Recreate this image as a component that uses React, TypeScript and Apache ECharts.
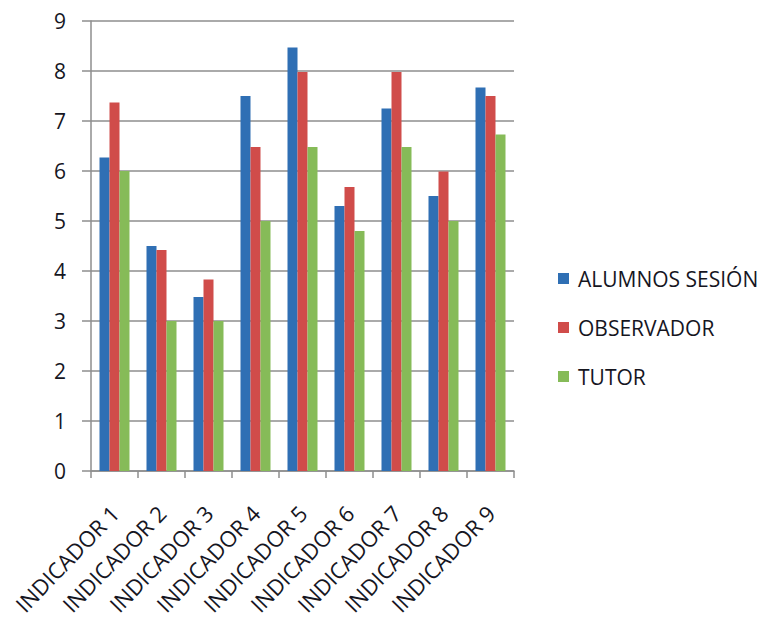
import React, { useEffect, useRef } from "react";
import * as echarts from "echarts";

const categories = [
  "INDICADOR 1",
  "INDICADOR 2",
  "INDICADOR 3",
  "INDICADOR 4",
  "INDICADOR 5",
  "INDICADOR 6",
  "INDICADOR 7",
  "INDICADOR 8",
  "INDICADOR 9",
];
const alumnos = [6.27, 4.5, 3.48, 7.5, 8.47, 5.3, 7.25, 5.5, 7.67];
const observador = [7.37, 4.42, 3.83, 6.48, 7.98, 5.68, 7.98, 5.99, 7.5];
const tutor = [6.0, 3.0, 3.0, 5.0, 6.48, 4.8, 6.48, 5.0, 6.73];
const yTicks = [0, 1, 2, 3, 4, 5, 6, 7, 8, 9];

const FONT = "Open Sans";
const TEXT = "#16161f";
const GRID = "#8e8e8e";

export default function App() {
  const ref = useRef<HTMLDivElement>(null);
  useEffect(() => {
    if (!ref.current) return;
    const chart = echarts.init(ref.current, undefined, { renderer: "svg" });
    const mk = (name: string, data: number[], color: string) => ({
      name,
      type: "bar",
      data,
      barWidth: 10,
      barGap: "0%",
      itemStyle: { color },
    });
    chart.setOption({
      animation: false,
      backgroundColor: "#ffffff",
      textStyle: { fontFamily: FONT },
      grid: { left: 83, right: 256, top: 13, bottom: 153, containLabel: false },
      legend: {
        orient: "vertical",
        left: 545,
        top: 255,
        itemWidth: 11,
        itemHeight: 11,
        itemGap: 28,
        icon: "rect",
        textStyle: { fontFamily: FONT, fontSize: 21, color: TEXT, padding: [0, 0, 0, 4] },
        data: ["ALUMNOS SESIÓN", "OBSERVADOR", "TUTOR"],
      },
      xAxis: {
        type: "category",
        data: categories,
        boundaryGap: true,
        axisLine: { lineStyle: { color: GRID, width: 1.5 } },
        axisTick: { show: true, length: 7, alignWithLabel: false, lineStyle: { color: GRID, width: 1.5 } },
        axisLabel: {
          interval: 0,
          rotate: 46,
          margin: 38,
          fontFamily: FONT,
          fontSize: 22,
          color: TEXT,
        },
      },
      yAxis: {
        type: "value",
        min: 0,
        max: 9,
        interval: 1,
        axisLine: { show: true, lineStyle: { color: GRID, width: 1.5 } },
        axisTick: { show: true, length: 9, lineStyle: { color: GRID, width: 1.5 } },
        splitLine: { show: true, lineStyle: { color: GRID, width: 1.5 } },
        axisLabel: {
          margin: 25,
          fontFamily: FONT,
          fontSize: 21,
          color: TEXT,
          formatter: (v: number) => (yTicks.includes(v) ? String(v) : ""),
        },
      },
      series: [
        mk("ALUMNOS SESIÓN", alumnos, "#2f6fb4"),
        mk("OBSERVADOR", observador, "#d04c4a"),
        mk("TUTOR", tutor, "#86bb58"),
      ],
    });
    return () => chart.dispose();
  }, []);
  return <div ref={ref} style={{ width: 762, height: 616 }} />;
}
